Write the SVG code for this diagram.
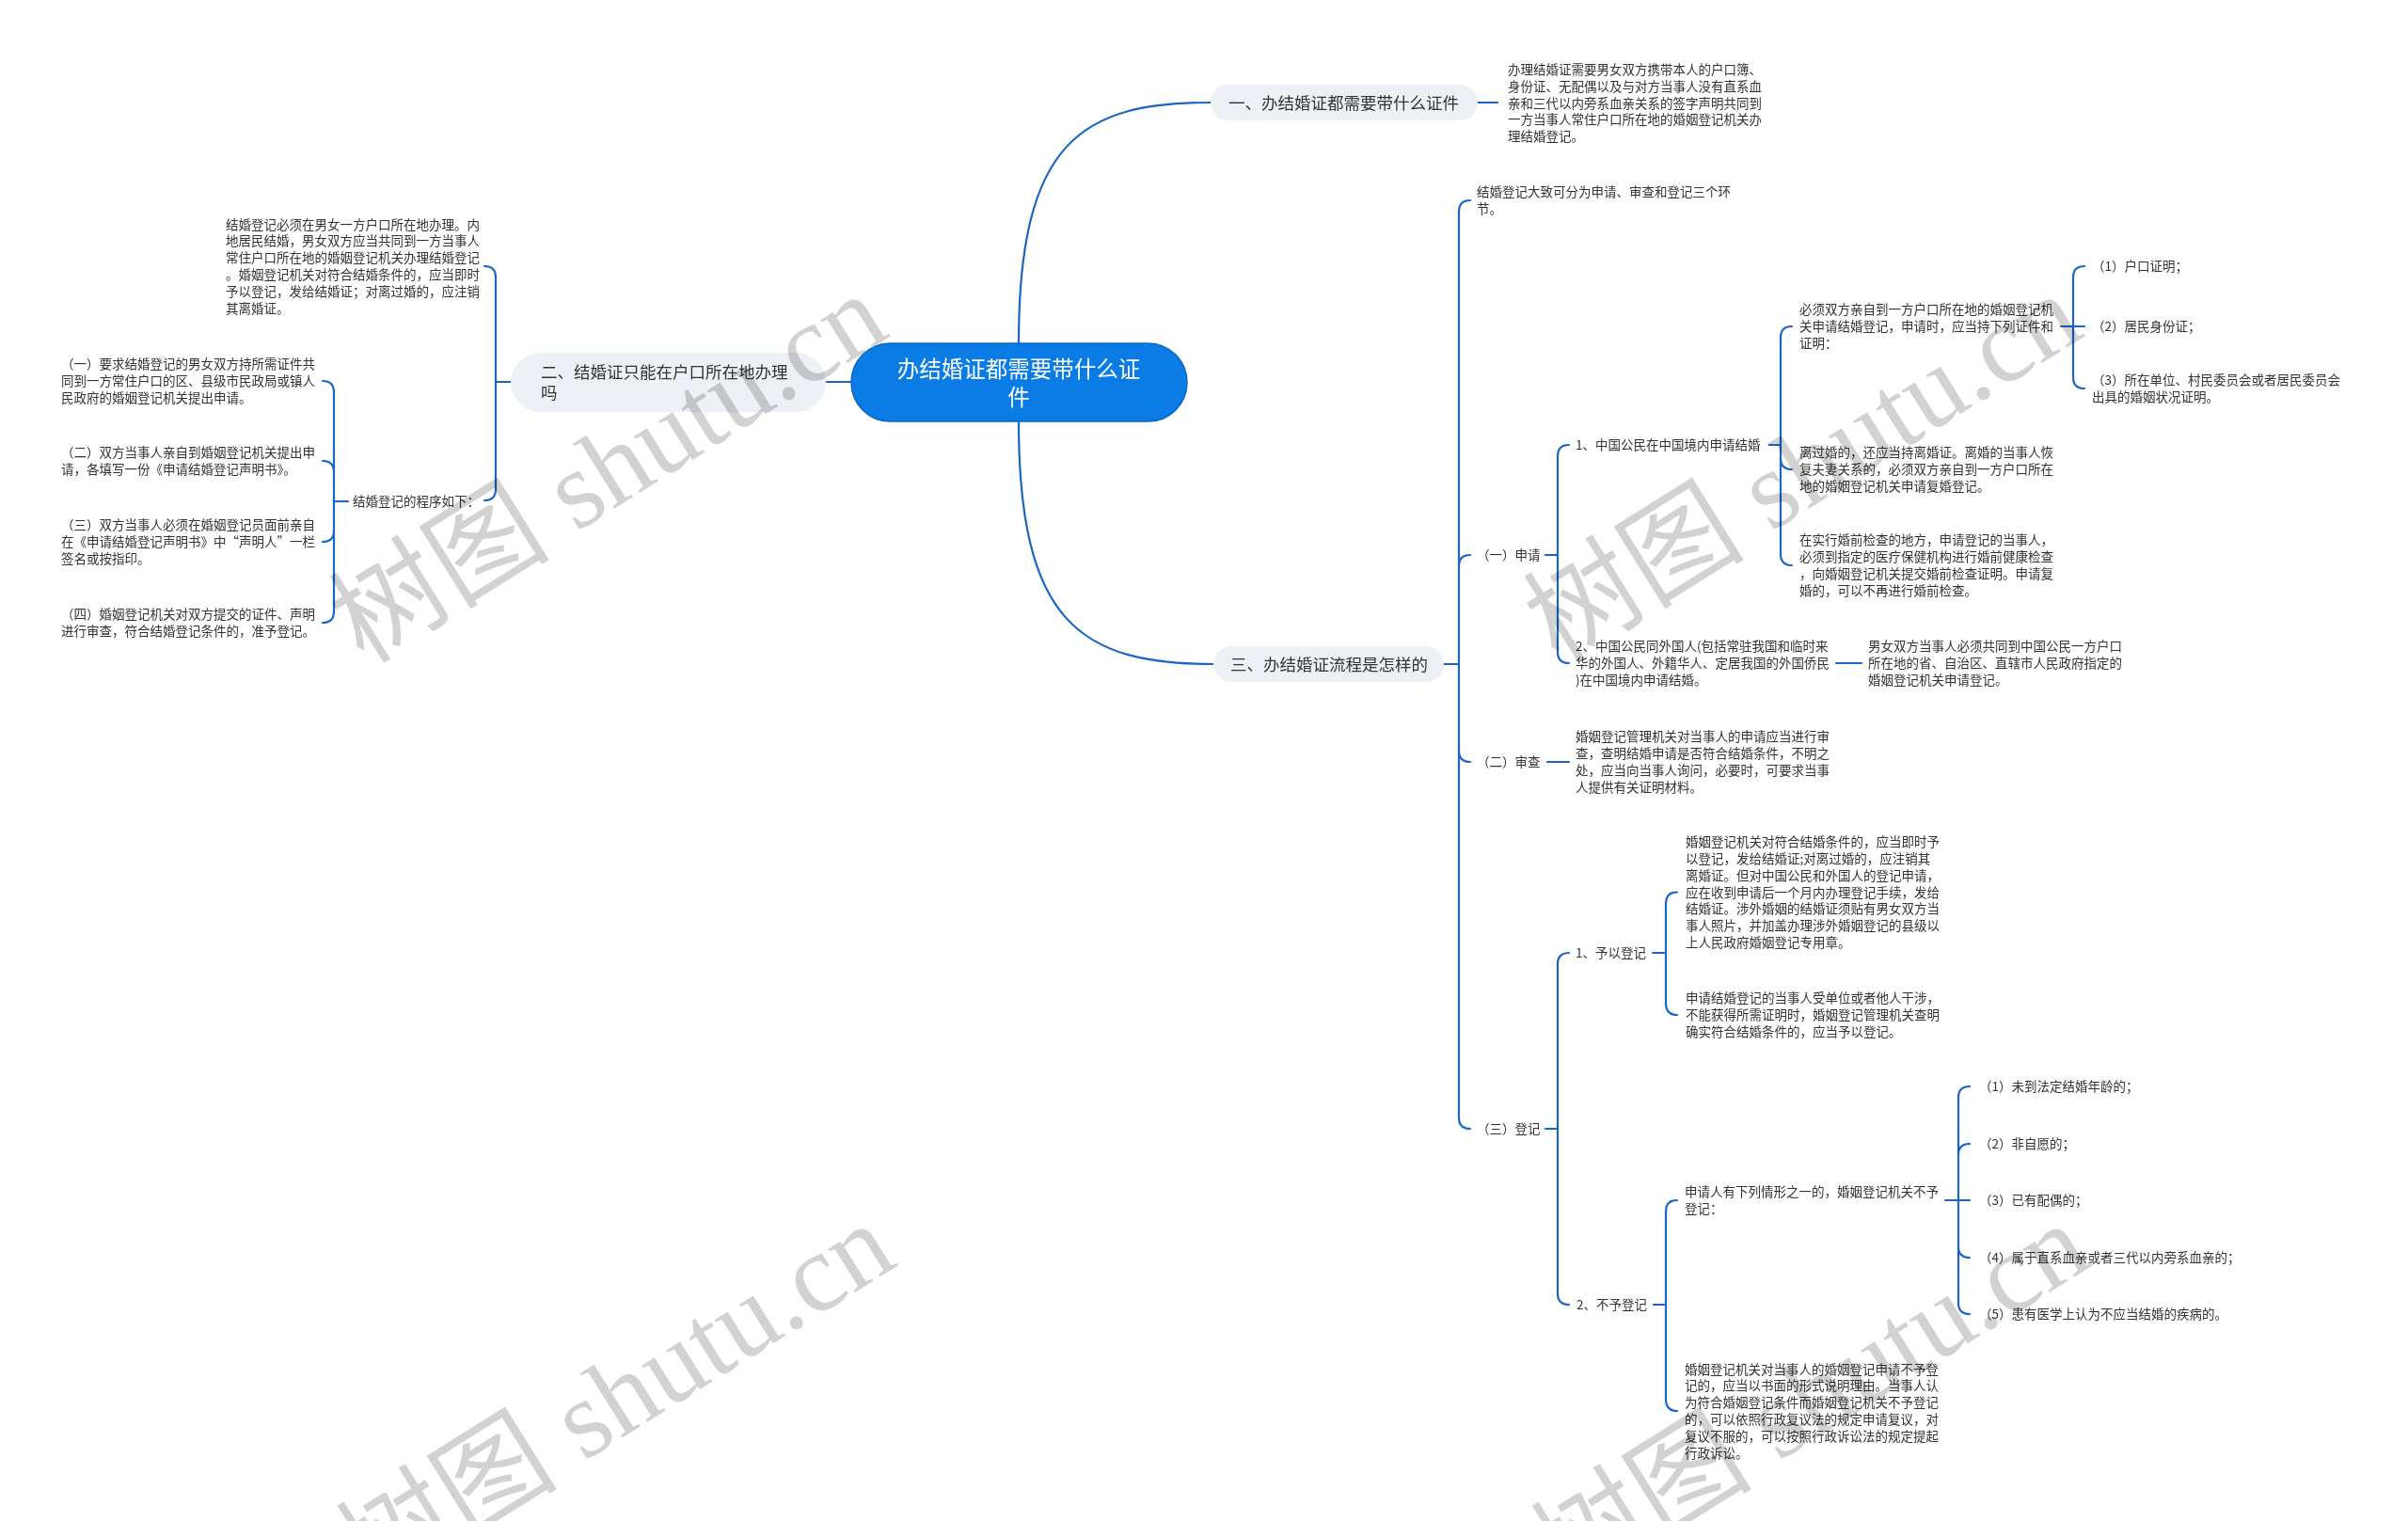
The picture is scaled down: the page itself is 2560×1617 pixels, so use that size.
<svg xmlns="http://www.w3.org/2000/svg" width="2560" height="1617" viewBox="0 0 2560 1617">
<style>
.t{font-family:"Noto Sans CJK SC","Noto Sans",sans-serif;font-size:13.5px;fill:#333}
.l1{font-size:17.5px}
.rt{font-size:23.5px;fill:#fff}
.c{fill:none;stroke:#1a66c2;stroke-width:2.2;stroke-linecap:round}
.pill{fill:#edf0f4}
.wm{font-family:"Liberation Serif","Noto Sans CJK SC",serif;font-size:118px;fill:#d2d2d2;mix-blend-mode:multiply}
</style>
<rect width="2560" height="1617" fill="#fff"/>
<g id="connectors">
<path class="c" d="M1083,365 C1083,150 1150,109 1287,109"/>
<path class="c" d="M1083,448 C1083,663 1150,706 1290,706"/>
<path class="c" d="M905,406 H878"/>
<path class="c" d="M1571,109 H1592"/>
<path class="c" d="M543,406 H527 M527,406 V295 Q527,283 515,283 M527,406 V520 Q527,532 515,532"/>
<path class="c" d="M370,533 H355 M355,533 V417 Q355,405 343,405 M355,533 V502 Q355,490 343,490 M355,533 V564 Q355,576 343,576 M355,533 V650 Q355,662 343,662"/>
<path class="c" d="M1535,706 H1551 M1551,706 V225 Q1551,213 1563,213 M1551,706 V602 Q1551,590 1563,590 M1551,706 V798 Q1551,810 1563,810 M1551,706 V1188 Q1551,1200 1563,1200"/>
<path class="c" d="M1643,590 H1656 M1656,590 V485 Q1656,473 1668,473 M1656,590 V693 Q1656,705 1668,705"/>
<path class="c" d="M1881,473 H1893 M1893,473 V359 Q1893,347 1905,347 M1893,473 V487 Q1893,499 1905,499 M1893,473 V589 Q1893,601 1905,601"/>
<path class="c" d="M2191,347 H2204 M2204,347 V295 Q2204,283 2216,283 M2204,347 H2216 M2204,347 V401 Q2204,413 2216,413"/>
<path class="c" d="M1952,705 H1979"/>
<path class="c" d="M1645,810 H1668"/>
<path class="c" d="M1643,1200 H1656 M1656,1200 V1025 Q1656,1013 1668,1013 M1656,1200 V1375 Q1656,1387 1668,1387"/>
<path class="c" d="M1757,1013 H1771 M1771,1013 V960.5 Q1771,948.5 1783,948.5 M1771,1013 V1067 Q1771,1079 1783,1079"/>
<path class="c" d="M1758,1387 H1771 M1771,1387 V1288 Q1771,1276 1783,1276 M1771,1387 V1488 Q1771,1500 1783,1500"/>
<path class="c" d="M2068,1276 H2082 M2082,1276 V1167 Q2082,1155 2094,1155 M2082,1276 V1228 Q2082,1216 2094,1216 M2082,1276 H2094 M2082,1276 V1325 Q2082,1337 2094,1337 M2082,1276 V1385 Q2082,1397 2094,1397"/>
</g>
<g id="b1">
<rect class="pill" x="1287" y="90" width="284" height="38" rx="19"/>
<text class="t l1" x="1306" y="115.6">一、办结婚证都需要带什么证件</text>
</g>
<g id="b1p">
<text class="t"><tspan x="1603" y="78.9">办理结婚证需要男女双方携带本人的户口簿、</tspan><tspan x="1603" y="96.7">身份证、无配偶以及与对方当事人没有直系血</tspan><tspan x="1603" y="114.5">亲和三代以内旁系血亲关系的签字声明共同到</tspan><tspan x="1603" y="132.3">一方当事人常住户口所在地的婚姻登记机关办</tspan><tspan x="1603" y="150.1">理结婚登记。</tspan></text>
</g>
<g id="b2">
<rect class="pill" x="543" y="375" width="335" height="63" rx="31.5"/>
<text class="t l1"><tspan x="575" y="402">二、结婚证只能在户口所在地办理</tspan><tspan x="575" y="424">吗</tspan></text>
</g>
<g id="b2p">
<text class="t"><tspan x="240" y="243.5">结婚登记必须在男女一方户口所在地办理。内</tspan><tspan x="240" y="261.3">地居民结婚，男女双方应当共同到一方当事人</tspan><tspan x="240" y="279.1">常住户口所在地的婚姻登记机关办理结婚登记</tspan><tspan x="240" y="296.9">。婚姻登记机关对符合结婚条件的，应当即时</tspan><tspan x="240" y="314.7">予以登记，发给结婚证；对离过婚的，应注销</tspan><tspan x="240" y="332.5">其离婚证。</tspan></text>
</g>
<g id="b2s">
<text class="t" x="375" y="538">结婚登记的程序如下：</text>
</g>
<g id="b2s1">
<text class="t"><tspan x="65" y="392.2">（一）要求结婚登记的男女双方持所需证件共</tspan><tspan x="65" y="410">同到一方常住户口的区、县级市民政局或镇人</tspan><tspan x="65" y="427.8">民政府的婚姻登记机关提出申请。</tspan></text>
</g>
<g id="b2s2">
<text class="t"><tspan x="65" y="486.1">（二）双方当事人亲自到婚姻登记机关提出申</tspan><tspan x="65" y="503.9">请，各填写一份《申请结婚登记声明书》。</tspan></text>
</g>
<g id="b2s3">
<text class="t"><tspan x="65" y="563.2">（三）双方当事人必须在婚姻登记员面前亲自</tspan><tspan x="65" y="581">在《申请结婚登记声明书》中“声明人”一栏</tspan><tspan x="65" y="598.8">签名或按指印。</tspan></text>
</g>
<g id="b2s4">
<text class="t"><tspan x="65" y="658.1">（四）婚姻登记机关对双方提交的证件、声明</tspan><tspan x="65" y="675.9">进行审查，符合结婚登记条件的，准予登记。</tspan></text>
</g>
<g id="b3">
<rect class="pill" x="1290" y="687" width="245" height="38" rx="19"/>
<text class="t l1" x="1308" y="712.6">三、办结婚证流程是怎样的</text>
</g>
<g id="b3p">
<text class="t"><tspan x="1570" y="209.1">结婚登记大致可分为申请、审查和登记三个环</tspan><tspan x="1570" y="226.9">节。</tspan></text>
</g>
<g id="s1"><text class="t" x="1570" y="595">（一）申请</text></g>
<g id="s1a"><text class="t" x="1675" y="478">1、中国公民在中国境内申请结婚</text></g>
<g id="s1a1">
<text class="t"><tspan x="1913" y="334.2">必须双方亲自到一方户口所在地的婚姻登记机</tspan><tspan x="1913" y="352">关申请结婚登记，申请时，应当持下列证件和</tspan><tspan x="1913" y="369.8">证明：</tspan></text>
</g>
<g id="s1a1a"><text class="t" x="2224" y="288">（1）户口证明；</text></g>
<g id="s1a1b"><text class="t" x="2224" y="352">（2）居民身份证；</text></g>
<g id="s1a1c">
<text class="t"><tspan x="2224" y="409.1">（3）所在单位、村民委员会或者居民委员会</tspan><tspan x="2224" y="426.9">出具的婚姻状况证明。</tspan></text>
</g>
<g id="s1a2">
<text class="t"><tspan x="1913" y="486.2">离过婚的，还应当持离婚证。离婚的当事人恢</tspan><tspan x="1913" y="504">复夫妻关系的，必须双方亲自到一方户口所在</tspan><tspan x="1913" y="521.8">地的婚姻登记机关申请复婚登记。</tspan></text>
</g>
<g id="s1a3">
<text class="t"><tspan x="1913" y="579.3">在实行婚前检查的地方，申请登记的当事人，</tspan><tspan x="1913" y="597.1">必须到指定的医疗保健机构进行婚前健康检查</tspan><tspan x="1913" y="614.9">，向婚姻登记机关提交婚前检查证明。申请复</tspan><tspan x="1913" y="632.7">婚的，可以不再进行婚前检查。</tspan></text>
</g>
<g id="s1b">
<text class="t"><tspan x="1675" y="692.2">2、中国公民同外国人(包括常驻我国和临时来</tspan><tspan x="1675" y="710">华的外国人、外籍华人、定居我国的外国侨民</tspan><tspan x="1675" y="727.8">)在中国境内申请结婚。</tspan></text>
</g>
<g id="s1b1">
<text class="t"><tspan x="1986" y="692.2">男女双方当事人必须共同到中国公民一方户口</tspan><tspan x="1986" y="710">所在地的省、自治区、直辖市人民政府指定的</tspan><tspan x="1986" y="727.8">婚姻登记机关申请登记。</tspan></text>
</g>
<g id="s2"><text class="t" x="1570" y="815">（二）审查</text></g>
<g id="s2a">
<text class="t"><tspan x="1675" y="788.3">婚姻登记管理机关对当事人的申请应当进行审</tspan><tspan x="1675" y="806.1">查，查明结婚申请是否符合结婚条件，不明之</tspan><tspan x="1675" y="823.9">处，应当向当事人询问，必要时，可要求当事</tspan><tspan x="1675" y="841.7">人提供有关证明材料。</tspan></text>
</g>
<g id="s3"><text class="t" x="1570" y="1205">（三）登记</text></g>
<g id="s3a"><text class="t" x="1675" y="1018">1、予以登记</text></g>
<g id="s3a1">
<text class="t"><tspan x="1792" y="900.1">婚姻登记机关对符合结婚条件的，应当即时予</tspan><tspan x="1792" y="917.9">以登记，发给结婚证;对离过婚的，应注销其</tspan><tspan x="1792" y="935.7">离婚证。但对中国公民和外国人的登记申请，</tspan><tspan x="1792" y="953.5">应在收到申请后一个月内办理登记手续，发给</tspan><tspan x="1792" y="971.3">结婚证。涉外婚姻的结婚证须贴有男女双方当</tspan><tspan x="1792" y="989.1">事人照片，并加盖办理涉外婚姻登记的县级以</tspan><tspan x="1792" y="1006.9">上人民政府婚姻登记专用章。</tspan></text>
</g>
<g id="s3a2">
<text class="t"><tspan x="1792" y="1066.2">申请结婚登记的当事人受单位或者他人干涉，</tspan><tspan x="1792" y="1084">不能获得所需证明时，婚姻登记管理机关查明</tspan><tspan x="1792" y="1101.8">确实符合结婚条件的，应当予以登记。</tspan></text>
</g>
<g id="s3b"><text class="t" x="1676" y="1392">2、不予登记</text></g>
<g id="s3b1">
<text class="t"><tspan x="1791" y="1272.1">申请人有下列情形之一的，婚姻登记机关不予</tspan><tspan x="1791" y="1289.9">登记：</tspan></text>
</g>
<g id="s3b1a"><text class="t" x="2104" y="1160">（1）未到法定结婚年龄的；</text></g>
<g id="s3b1b"><text class="t" x="2104" y="1221">（2）非自愿的；</text></g>
<g id="s3b1c"><text class="t" x="2104" y="1281">（3）已有配偶的；</text></g>
<g id="s3b1d"><text class="t" x="2104" y="1342">（4）属于直系血亲或者三代以内旁系血亲的；</text></g>
<g id="s3b1e"><text class="t" x="2104" y="1402">（5）患有医学上认为不应当结婚的疾病的。</text></g>
<g id="s3b2">
<text class="t"><tspan x="1791" y="1460.5">婚姻登记机关对当事人的婚姻登记申请不予登</tspan><tspan x="1791" y="1478.3">记的，应当以书面的形式说明理由。当事人认</tspan><tspan x="1791" y="1496.1">为符合婚姻登记条件而婚姻登记机关不予登记</tspan><tspan x="1791" y="1513.9">的，可以依照行政复议法的规定申请复议，对</tspan><tspan x="1791" y="1531.7">复议不服的，可以按照行政诉讼法的规定提起</tspan><tspan x="1791" y="1549.5">行政诉讼。</tspan></text>
</g>
<g id="watermark">
<text class="wm" transform="translate(387,707) rotate(-32)">树图 shutu.cn</text>
<text class="wm" transform="translate(1657,707) rotate(-32)">树图 shutu.cn</text>
<text class="wm" transform="translate(395,1695) rotate(-32)">树图 shutu.cn</text>
<text class="wm" transform="translate(1665,1695) rotate(-32)">树图 shutu.cn</text>
</g>
<g id="root">
<rect x="905" y="365" width="357" height="83" rx="41.5" fill="#0b7ce6" stroke="#0868c8" stroke-width="1.5"/>
<text class="t rt" text-anchor="middle"><tspan x="1083" y="401">办结婚证都需要带什么证</tspan><tspan x="1083" y="431">件</tspan></text>
</g>
</svg>
